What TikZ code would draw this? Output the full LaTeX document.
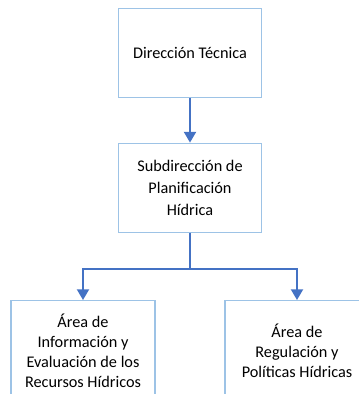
\documentclass[tikz,border=0pt]{standalone}
\usepackage{fontspec}
\setmainfont{Carlito}
\usetikzlibrary{arrows.meta, positioning}
\definecolor{boxline}{HTML}{9DC3E6}
\definecolor{linkline}{HTML}{4472C4}

\begin{document}
\begin{tikzpicture}[
        node distance=33.75pt,
        unit/.style={rectangle, draw=boxline, line width=0.8pt, minimum width=107.25pt, minimum height=66.75pt, align=center, font=\fontsize{12.2}{16.5}\selectfont, inner sep=2pt},
        area/.style={unit, minimum width=108pt, minimum height=75pt, font=\fontsize{12.2}{15}\selectfont},
        arrow/.style={-{Triangle[width=9pt,length=8pt]}, linkline, line width=1.4pt}
    ]
        \useasboundingbox (0,0) rectangle (269.25pt,-295.5pt);

        % Nodes
        \node[unit] (direccion) at (142.5pt,-39.4pt) {Dirección Técnica};
        \node[unit, below=of direccion] (subdireccion) {Subdirección de\\Planificación\\Hídrica};
        \node[area, anchor=north] (informacion) at (62.25pt,-225pt) {Área de\\Información y\\Evaluación de los\\Recursos Hídricos};
        \node[area, anchor=north] (regulacion) at (222.75pt,-225pt) {Área de\\Regulación y\\Políticas Hídricas};

        % Paths
        \draw[arrow] (direccion) -- (subdireccion);
        \coordinate[below=27pt of subdireccion.south] (split);
        \draw[linkline, line width=1.4pt] (subdireccion.south) -- (split);
        \draw[arrow] (split) -| (informacion.north);
        \draw[arrow] (split) -| (regulacion.north);

    \end{tikzpicture}
\end{document}
